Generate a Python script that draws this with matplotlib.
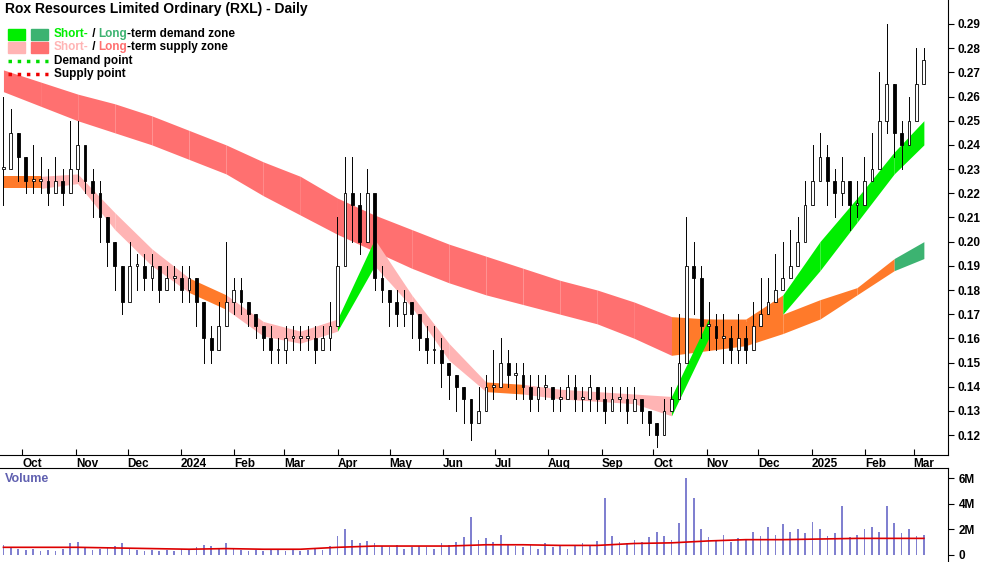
import numpy as np
import pandas as pd
import matplotlib
matplotlib.use("Agg")
import matplotlib.pyplot as plt
import matplotlib.dates as mdates
from matplotlib.patches import Rectangle

plt.rcParams["font.family"] = ["Liberation Sans", "DejaVu Sans"]

# ---- data ----
closes = [0.23, 0.245, 0.235, 0.225, 0.225, 0.225, 0.22, 0.225, 0.22, 0.23,
          0.24, 0.225, 0.22, 0.21, 0.20, 0.19, 0.175, 0.19, 0.19, 0.185,
          0.19, 0.18, 0.185, 0.185, 0.18, 0.185, 0.175, 0.16, 0.155, 0.165,
          0.175, 0.18, 0.175, 0.17, 0.165, 0.16, 0.155, 0.155, 0.16, 0.16,
          0.16, 0.16, 0.155, 0.16, 0.165, 0.19, 0.22, 0.215, 0.20, 0.22,
          0.185, 0.18, 0.175, 0.17, 0.175, 0.17, 0.16, 0.155, 0.155, 0.15,
          0.145, 0.14, 0.135, 0.125, 0.13, 0.14, 0.14, 0.15, 0.145, 0.145,
          0.14, 0.135, 0.14, 0.14, 0.135, 0.135, 0.14, 0.135, 0.135, 0.14,
          0.135, 0.13, 0.135, 0.135, 0.13, 0.135, 0.13, 0.125, 0.12, 0.13,
          0.135, 0.15, 0.19, 0.185, 0.165, 0.165, 0.16, 0.16, 0.155, 0.16,
          0.155, 0.165, 0.17, 0.175, 0.18, 0.185, 0.19, 0.20, 0.215, 0.225,
          0.235, 0.225, 0.22, 0.225, 0.215, 0.215, 0.225, 0.23, 0.25, 0.265,
          0.245, 0.24, 0.25, 0.265, 0.275]
highs = [0.26, 0.255, 0.245, 0.235, 0.24, 0.235, 0.23, 0.235, 0.23, 0.25,
         0.25, 0.235, 0.23, 0.225, 0.21, 0.20, 0.19, 0.20, 0.195, 0.195,
         0.195, 0.19, 0.19, 0.19, 0.19, 0.19, 0.185, 0.175, 0.165, 0.175,
         0.20, 0.185, 0.185, 0.175, 0.17, 0.165, 0.165, 0.16, 0.165, 0.165,
         0.165, 0.165, 0.165, 0.165, 0.175, 0.21, 0.235, 0.235, 0.22, 0.23,
         0.195, 0.19, 0.18, 0.18, 0.18, 0.175, 0.17, 0.165, 0.165, 0.16,
         0.15, 0.145, 0.14, 0.135, 0.14, 0.145, 0.155, 0.16, 0.155, 0.15,
         0.15, 0.145, 0.145, 0.145, 0.14, 0.14, 0.145, 0.145, 0.14, 0.145,
         0.14, 0.14, 0.14, 0.14, 0.14, 0.14, 0.135, 0.13, 0.125, 0.135,
         0.14, 0.17, 0.21, 0.20, 0.19, 0.175, 0.17, 0.17, 0.165, 0.17,
         0.165, 0.175, 0.185, 0.185, 0.195, 0.20, 0.205, 0.21, 0.225, 0.24,
         0.245, 0.24, 0.23, 0.235, 0.225, 0.225, 0.235, 0.245, 0.27, 0.29,
         0.265, 0.25, 0.26, 0.28, 0.28]
lows = [0.215, 0.23, 0.225, 0.22, 0.22, 0.22, 0.215, 0.22, 0.215, 0.22,
        0.225, 0.22, 0.21, 0.20, 0.19, 0.18, 0.17, 0.18, 0.18, 0.18,
        0.18, 0.175, 0.18, 0.18, 0.175, 0.175, 0.165, 0.15, 0.15, 0.155,
        0.165, 0.17, 0.17, 0.165, 0.16, 0.155, 0.15, 0.15, 0.15, 0.155,
        0.155, 0.155, 0.15, 0.155, 0.155, 0.165, 0.19, 0.20, 0.195, 0.20,
        0.18, 0.175, 0.165, 0.165, 0.165, 0.16, 0.155, 0.15, 0.15, 0.14,
        0.135, 0.13, 0.125, 0.118, 0.125, 0.13, 0.135, 0.14, 0.14, 0.135,
        0.135, 0.13, 0.13, 0.135, 0.13, 0.13, 0.135, 0.13, 0.13, 0.13,
        0.13, 0.125, 0.13, 0.13, 0.125, 0.13, 0.125, 0.12, 0.115, 0.12,
        0.13, 0.14, 0.16, 0.17, 0.16, 0.155, 0.155, 0.15, 0.15, 0.15,
        0.15, 0.155, 0.165, 0.17, 0.175, 0.18, 0.185, 0.19, 0.205, 0.215,
        0.225, 0.215, 0.21, 0.215, 0.205, 0.21, 0.215, 0.225, 0.24, 0.245,
        0.235, 0.23, 0.24, 0.26, 0.265]
volumes = [0.8, 0.6, 0.5, 0.4, 0.5, 0.3, 0.4, 0.3, 0.5, 0.9,
           1.0, 0.6, 0.4, 0.5, 0.6, 0.7, 0.9, 0.5, 0.4, 0.3,
           0.4, 0.3, 0.4, 0.3, 0.5, 0.4, 0.6, 0.8, 0.7, 0.5,
           0.9, 0.5, 0.4, 0.3, 0.4, 0.3, 0.5, 0.4, 0.3, 0.4,
           0.3, 0.4, 0.5, 0.4, 0.7, 1.5, 2.0, 1.2, 0.9, 1.1,
           0.9, 0.7, 0.6, 0.8, 0.5, 0.6, 0.7, 0.6, 0.5, 0.9,
           0.8, 1.0, 1.4, 3.0, 1.2, 1.3, 1.0, 1.6, 0.8, 0.7,
           0.6, 0.8, 0.5, 0.9, 0.6, 0.7, 0.5, 0.8, 0.9, 0.7,
           1.1, 4.5, 1.5, 1.0, 0.9, 1.2, 1.0, 1.4, 1.8, 1.5,
           1.2, 2.5, 6.0, 4.5, 2.0, 1.4, 1.2, 1.6, 1.0, 1.3,
           1.2, 1.8, 1.5, 2.2, 1.6, 2.4, 1.8, 2.0, 1.7, 2.6,
           2.0, 1.5, 1.7, 3.8, 1.4, 1.6, 2.0, 2.2, 1.8, 3.8,
           2.5, 1.7, 2.0, 1.5, 1.6]

# band samples at every 5th bar
band_idx = [0, 5, 10, 15, 20, 25, 30, 35, 40, 45, 50, 55, 60, 65, 70, 75,
            80, 85, 90, 95, 100, 105, 110, 115, 120, 124]
lt_top = [0.271, 0.266, 0.261, 0.257, 0.252, 0.246, 0.240, 0.233, 0.227, 0.218,
          0.211, 0.205, 0.199, 0.194, 0.189, 0.184, 0.180, 0.175, 0.169, 0.168,
          0.167, 0.170, 0.176, 0.181, 0.193, 0.200]
lt_bot = [0.262, 0.256, 0.250, 0.245, 0.240, 0.234, 0.228, 0.219, 0.211, 0.203,
          0.196, 0.189, 0.183, 0.178, 0.174, 0.170, 0.166, 0.160, 0.153, 0.155,
          0.157, 0.162, 0.168, 0.178, 0.188, 0.193]
lt_state = "ssssssssssssssssssoooooogg"
st_top = [0.227, 0.227, 0.228, 0.212, 0.197, 0.185, 0.178, 0.167, 0.163, 0.168,
          0.201, 0.178, 0.158, 0.142, 0.141, 0.139, 0.138, 0.137, 0.136, 0.168,
          0.168, 0.178, 0.200, 0.218, 0.237, 0.250]
st_bot = [0.222, 0.222, 0.224, 0.205, 0.190, 0.179, 0.172, 0.161, 0.158, 0.163,
          0.190, 0.173, 0.151, 0.138, 0.137, 0.135, 0.134, 0.133, 0.128, 0.160,
          0.162, 0.170, 0.188, 0.208, 0.228, 0.240]
st_state = "ossssosssdsssossssdoodddddd"
vol_ma = [0.6, 0.6, 0.6, 0.55, 0.5, 0.45, 0.5, 0.45, 0.45, 0.6,
          0.7, 0.7, 0.7, 0.8, 0.8, 0.75, 0.75, 0.9, 0.95, 1.1,
          1.2, 1.2, 1.25, 1.3, 1.3, 1.3]

dates = pd.date_range("2023-09-20", "2025-03-07", periods=len(closes))
x = mdates.date2num(dates)
bx = x[band_idx]

C_SUP_LT = "#ff7070"
C_SUP_ST = "#ffb4b4"
C_DEM_LT = "#3cb371"
C_DEM_ST = "#00ee00"
C_OVER = "#ff7a2a"
lt_col = {"s": C_SUP_LT, "o": C_OVER, "g": C_DEM_LT}
st_col = {"s": C_SUP_ST, "o": C_OVER, "d": C_DEM_ST}

fig = plt.figure(figsize=(10, 5.62), dpi=100)
ax = fig.add_axes([0, 0.19, 0.948, 0.81])
axv = fig.add_axes([0, 0, 0.948, 0.167])

for k in range(len(bx) - 1):
    sl = slice(k, k + 2)
    ax.fill_between(bx[sl], np.array(lt_bot)[sl], np.array(lt_top)[sl],
                    color=lt_col[lt_state[k]], lw=0, zorder=1)
    ax.fill_between(bx[sl], np.array(st_bot)[sl], np.array(st_top)[sl],
                    color=st_col[st_state[k]], lw=0, zorder=2)

opens = [closes[0]] + closes[:-1]
w = 1.6
for xi, o, h, l, c in zip(x, opens, highs, lows, closes):
    ax.plot([xi, xi], [l, h], color="black", lw=0.7, zorder=3)
    lo, hi = min(o, c), max(o, c)
    ax.add_patch(Rectangle((xi - w / 2, lo), w, max(hi - lo, 0.0008),
                           facecolor="white" if c >= o else "black",
                           edgecolor="black", lw=0.6, zorder=4))

ax.set_ylim(0.1117, 0.2999)
xmin, xmax = x[0] - 2, x[-1] + 14
ax.set_xlim(xmin, xmax)
ax.yaxis.tick_right()
ax.set_yticks(np.arange(0.12, 0.2901, 0.01))
ax.set_yticklabels([f"{v:.2f}" for v in np.arange(0.12, 0.2901, 0.01)])
ax.tick_params(axis="y", direction="out", length=4, labelsize=8.5, pad=3)
ax.xaxis.set_major_locator(mdates.MonthLocator())
ax.xaxis.set_major_formatter(
    matplotlib.ticker.FuncFormatter(
        lambda v, p: str(mdates.num2date(v).year) if mdates.num2date(v).month == 1
        else mdates.num2date(v).strftime("%b")))
ax.tick_params(axis="x", direction="in", length=4, labelsize=8.5, pad=2)
for lab in ax.get_xticklabels() + ax.get_yticklabels():
    lab.set_fontweight("bold")
for lab in ax.get_xticklabels():
    lab.set_horizontalalignment("left")
for s in ["top", "left"]:
    ax.spines[s].set_visible(False)

ax.text(0.005, 0.995, "Rox Resources Limited Ordinary (RXL) - Daily",
        transform=ax.transAxes, va="top", fontsize=10, fontweight="bold")
lx, ly = 0.008, 0.925
dy = 0.029
ax.add_patch(Rectangle((lx, ly - 0.012), 0.018, 0.024, transform=ax.transAxes,
                       color=C_DEM_ST, zorder=6))
ax.add_patch(Rectangle((lx + 0.025, ly - 0.012), 0.018, 0.024, transform=ax.transAxes,
                       color=C_DEM_LT, zorder=6))
ax.add_patch(Rectangle((lx, ly - dy - 0.012), 0.018, 0.024, transform=ax.transAxes,
                       color=C_SUP_ST, zorder=6))
ax.add_patch(Rectangle((lx + 0.025, ly - dy - 0.012), 0.018, 0.024, transform=ax.transAxes,
                       color=C_SUP_LT, zorder=6))
tx = 0.057
renderer = fig.canvas.get_renderer()


def seg_text(y, parts):
    xx = tx
    for s, col in parts:
        t = ax.text(xx, y, s, transform=ax.transAxes, va="center", fontsize=8.5,
                    color=col, fontweight="bold", zorder=7)
        xx += t.get_window_extent(renderer=renderer).width / ax.bbox.width


seg_text(ly, [("Short-", C_DEM_ST), (" / ", "black"), ("Long", C_DEM_LT),
              ("-term demand zone", "black")])
seg_text(ly - dy, [("Short-", C_SUP_ST), (" / ", "black"), ("Long", C_SUP_LT),
                   ("-term supply zone", "black")])
ax.plot([lx, lx + 0.043], [ly - 2 * dy] * 2, transform=ax.transAxes, ls=":",
        color="#00dd00", lw=2.5, zorder=7)
ax.plot([lx, lx + 0.043], [ly - 3 * dy] * 2, transform=ax.transAxes, ls=":",
        color="#ee0000", lw=2.5, zorder=7)
ax.text(tx, ly - 2 * dy, "Demand point", transform=ax.transAxes, va="center",
        fontsize=8.5, fontweight="bold")
ax.text(tx, ly - 3 * dy, "Supply point", transform=ax.transAxes, va="center",
        fontsize=8.5, fontweight="bold")

axv.bar(x, np.array(volumes) * 1e6, width=1.0, color="#8080d0", zorder=2)
axv.plot(bx, np.array(vol_ma) * 1e6, color="#dd0000", lw=1.2, zorder=3)
axv.set_xlim(xmin, xmax)
axv.set_ylim(-0.55e6, 6.8e6)
axv.yaxis.tick_right()
axv.set_yticks([0, 2e6, 4e6, 6e6])
axv.set_yticklabels(["0", "2M", "4M", "6M"], fontweight="bold")
axv.tick_params(axis="y", direction="out", length=4, labelsize=8.5)
axv.set_xticks([])
for s in ["bottom", "left"]:
    axv.spines[s].set_visible(False)
axv.text(0.005, 0.95, "Volume", transform=axv.transAxes, va="top", fontsize=9,
         fontweight="bold", color="#6060b0")

fig.savefig("out.png", dpi=100)
